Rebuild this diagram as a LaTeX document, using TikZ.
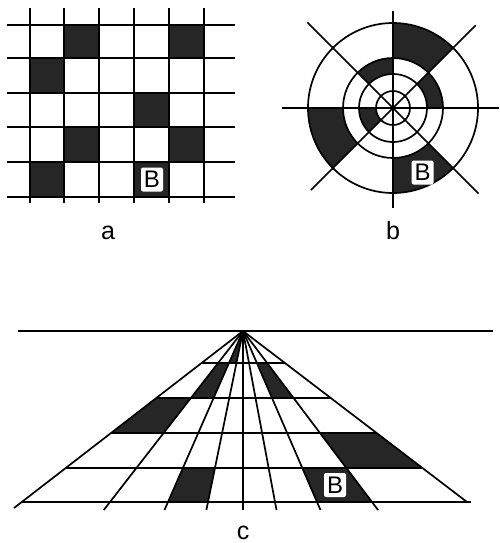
\documentclass[tikz,border=0pt]{standalone}
\usepackage{fontspec}
\setmainfont{Liberation Sans}
\newcommand\darksector[4]{\fill[dark] (#1:#3) arc[start angle=#1, end angle=#2, radius=#3] -- (#2:#4) arc[start angle=#2, end angle=#1, radius=#4] -- cycle;}
\newcommand\darkcell[4]{\fill[dark] ({243+(#3)*#1},{331+171*#1}) -- ({243+(#4)*#1},{331+171*#1}) -- ({243+(#4)*#2},{331+171*#2}) -- ({243+(#3)*#2},{331+171*#2}) -- cycle;}
\begin{document}
\begin{tikzpicture}[x=1pt,y=-1pt,line width=1.7pt,
  dark/.style={fill=black!85},
  bbox/.style={fill=white,rounded corners=2pt,inner sep=0pt,minimum width=22pt,minimum height=24pt,font=\fontsize{24}{24}\selectfont},
  lbl/.style={anchor=base,inner sep=0pt,text depth=0pt,font=\fontsize{25}{25}\selectfont}]
\useasboundingbox (0,0) rectangle (499,543);
% ---------- panel a ----------
\fill[dark] (64,25) rectangle (99,58);
\fill[dark] (169,25) rectangle (204,58);
\fill[dark] (30,58) rectangle (64,93);
\fill[dark] (134,93) rectangle (169,127);
\fill[dark] (64,127) rectangle (99,162);
\fill[dark] (169,127) rectangle (204,162);
\fill[dark] (30,162) rectangle (64,197);
\fill[dark] (134,162) rectangle (169,197);
\foreach \y in {25,58,93,127,162,197} \draw (7,\y) -- (235,\y);
\foreach \x in {30,64,99,134,169,204} \draw (\x,8) -- (\x,203);
\node[bbox] (Ba) at (152,179.5) {B};
\node[lbl] (la) at (108,239) {a};
% ---------- panel b ----------
\begin{scope}[shift={(393,108)},yscale=-1]
  \darksector{45}{90}{50}{85}
  \darksector{0}{45}{34}{50}
  \darksector{90}{135}{34}{50}
  \darksector{180}{225}{17}{34}
  \darksector{180}{225}{50}{85}
  \darksector{270}{315}{50}{85}
  \foreach \r in {17,34,50,85} \draw (0,0) circle[radius=\r];
  \draw (90:97) -- (270:100);
  \draw (180:111) -- (0:106);
  \draw (135:121) -- (315:121);
  \draw (45:117) -- (225:116);
\end{scope}
\node[bbox] (Bb) at (422.5,172.5) {B};
\node[lbl] (lb) at (393,239) {b};
% ---------- panel c ----------
\coordinate (vp) at (243,331);
\darkcell{0}{0.187}{-75}{-35}
\darkcell{0.187}{0.392}{-133}{-75}
\darkcell{0.187}{0.392}{74}{129}
\darkcell{0.392}{0.596}{-221}{-133}
\darkcell{0.596}{0.801}{129}{224}
\darkcell{0.801}{1}{-75}{-35}
\darkcell{0.801}{1}{74}{129}
\draw[line width=2pt] (18,331) -- (493,331);
\foreach \d in {-133,-75,-35,0,32,74,129} \draw (vp) -- ({243+\d*1.047},510);
\draw (vp) -- (14,508);
\draw (vp) -- (467,502);
\foreach \t in {0.187,0.392,0.596,0.801} \draw ({243-221*\t},{331+171*\t}) -- ({243+224*\t},{331+171*\t});
\draw (22,502) -- (471,502);
\node[bbox] (Bc) at (335,485) {B};
\node[lbl] (lc) at (243,539) {c};
\end{tikzpicture}
\end{document}
